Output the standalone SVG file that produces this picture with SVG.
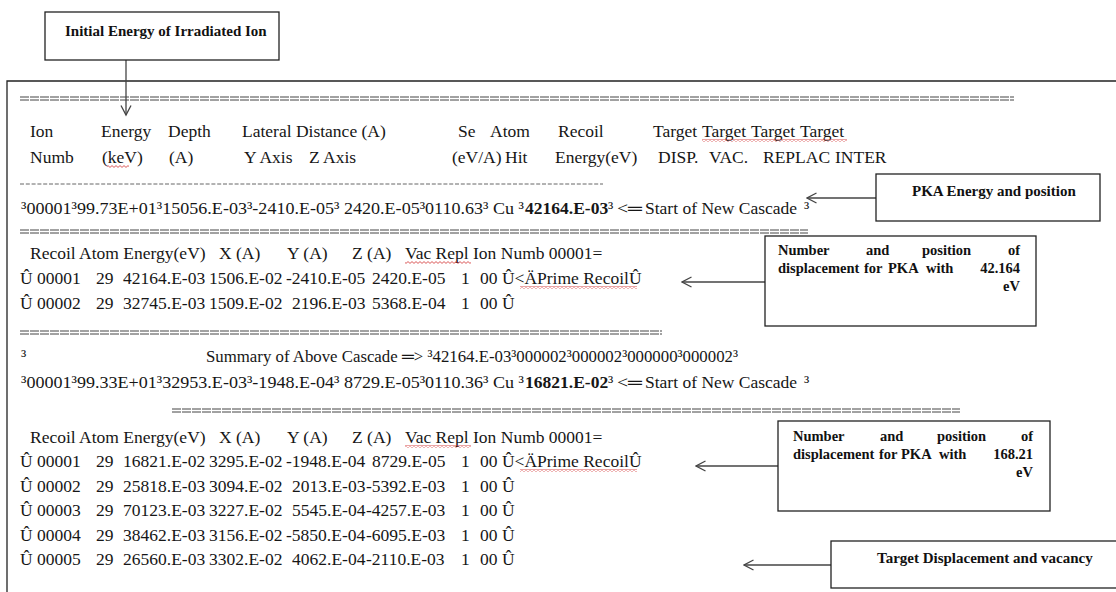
<svg xmlns="http://www.w3.org/2000/svg" width="1116" height="592" viewBox="0 0 1116 592">
<style>
.t{font-family:"Liberation Serif","Times New Roman",serif;font-size:17.5px;fill:#161616}
.tb{font-family:"Liberation Serif","Times New Roman",serif;font-size:17.5px;font-weight:bold;fill:#161616}
.b{font-family:"Liberation Serif","Times New Roman",serif;font-size:15px;font-weight:bold;fill:#111}
.bs{font-family:"Liberation Serif","Times New Roman",serif;font-size:14.5px;font-weight:bold;fill:#111}
.box{fill:#fff;stroke:#222;stroke-width:1.3}
.frame{fill:none;stroke:#222;stroke-width:1.3}
.conn{fill:none;stroke:#444;stroke-width:1.3;marker-end:url(#ah)}
.dbl{stroke:#444;stroke-width:1;stroke-dasharray:9 1}
.dash{stroke:#666;stroke-width:1;stroke-dasharray:4 1.8}
.sq{fill:url(#wave)}
</style>
<defs>
<marker id="ah" viewBox="0 0 12 12" refX="10.5" refY="6" markerWidth="12" markerHeight="12" markerUnits="userSpaceOnUse" orient="auto">
<path d="M1,1 L10.5,6 L1,11" fill="none" stroke="#444" stroke-width="1.3"/>
</marker>
<pattern id="wave" width="4" height="3" patternUnits="userSpaceOnUse">
<path d="M0,0.6 L2,2.4 L4,0.6" fill="none" stroke="#d23030" stroke-width="0.8"/>
</pattern>
</defs>
<rect width="1116" height="592" fill="#fff"/>

<g id="listing">
<path class="frame" d="M1116,81 H7 V592"/>
<line class="dbl" x1="20" y1="97" x2="1014" y2="97"/><line class="dbl" x1="20" y1="100" x2="1014" y2="100"/>
<text class="t" y="137"><tspan x="30">Ion</tspan><tspan x="101">Energy</tspan><tspan x="168">Depth</tspan><tspan x="242">Lateral Distance (A)</tspan><tspan x="458">Se</tspan><tspan x="490">Atom</tspan><tspan x="558">Recoil</tspan><tspan x="653">Target</tspan><tspan x="702">Target</tspan><tspan x="751">Target</tspan><tspan x="800">Target</tspan></text>
<text class="t" y="163"><tspan x="30">Numb</tspan><tspan x="102">(keV)</tspan><tspan x="169">(A)</tspan><tspan x="244">Y Axis</tspan><tspan x="309">Z Axis</tspan><tspan x="452">(eV/A)</tspan><tspan x="505">Hit</tspan><tspan x="555">Energy(eV)</tspan><tspan x="658">DISP.</tspan><tspan x="709">VAC.</tspan><tspan x="763">REPLAC</tspan><tspan x="835">INTER</tspan></text>
<rect class="sq" x="702" y="139" width="145" height="3"/>
<rect class="sq" x="107" y="165" width="22" height="3"/>
<line class="dash" x1="20" y1="184" x2="603" y2="184"/>
<text class="t" y="214"><tspan x="21" textLength="503" lengthAdjust="spacingAndGlyphs">³00001³99.73E+01³15056.E-03³-2410.E-05³ 2420.E-05³0110.63³ Cu ³</tspan></text>
<text class="tb" x="525" y="214">42164.E-03</text>
<text class="t" y="214"><tspan x="608">³</tspan><tspan x="617" textLength="25" lengthAdjust="spacingAndGlyphs">&lt;═</tspan><tspan x="645">Start of New Cascade</tspan><tspan x="804">³</tspan></text>
<line class="dbl" x1="20" y1="230" x2="808" y2="230"/><line class="dbl" x1="20" y1="233" x2="808" y2="233"/>

<text class="t" y="259"><tspan x="30">Recoil Atom Energy(eV)</tspan><tspan x="219">X (A)</tspan><tspan x="287">Y (A)</tspan><tspan x="352">Z (A)</tspan><tspan x="405">Vac Repl Ion Numb 00001=</tspan></text>
<rect class="sq" x="405" y="261" width="66" height="3"/>
<text class="t" y="284"><tspan x="20">Û</tspan><tspan x="37">00001</tspan><tspan x="96">29</tspan><tspan x="123">42164.E-03</tspan><tspan x="209">1506.E-02</tspan><tspan x="286">-2410.E-05</tspan><tspan x="372">2420.E-05</tspan><tspan x="461">1</tspan><tspan x="480">00 Û&lt;ÄPrime RecoilÛ</tspan></text>
<rect class="sq" x="520" y="286" width="117" height="3"/>
<text class="t" y="309"><tspan x="20">Û</tspan><tspan x="37">00002</tspan><tspan x="96">29</tspan><tspan x="123">32745.E-03</tspan><tspan x="209">1509.E-02</tspan><tspan x="292">2196.E-03</tspan><tspan x="372">5368.E-04</tspan><tspan x="461">1</tspan><tspan x="480">00 Û</tspan></text>
<line class="dbl" x1="20" y1="331" x2="662" y2="331"/><line class="dbl" x1="20" y1="334" x2="662" y2="334"/>

<text class="t" x="21" y="362">³</text>
<text class="t" x="206" y="362" textLength="532" lengthAdjust="spacingAndGlyphs">Summary of Above Cascade ═&gt; ³42164.E-03³000002³000002³000000³000002³</text>
<text class="t" y="388"><tspan x="21" textLength="503" lengthAdjust="spacingAndGlyphs">³00001³99.33E+01³32953.E-03³-1948.E-04³ 8729.E-05³0110.36³ Cu ³</tspan></text>
<text class="tb" x="525" y="388">16821.E-02</text>
<text class="t" y="388"><tspan x="608">³</tspan><tspan x="617" textLength="25" lengthAdjust="spacingAndGlyphs">&lt;═</tspan><tspan x="645">Start of New Cascade</tspan><tspan x="804">³</tspan></text>
<line class="dbl" x1="172" y1="409" x2="960" y2="409"/><line class="dbl" x1="172" y1="412" x2="960" y2="412"/>

<text class="t" y="443"><tspan x="30">Recoil Atom Energy(eV)</tspan><tspan x="219">X (A)</tspan><tspan x="287">Y (A)</tspan><tspan x="352">Z (A)</tspan><tspan x="405">Vac Repl Ion Numb 00001=</tspan></text>
<rect class="sq" x="405" y="445" width="66" height="3"/>
<text class="t" y="467"><tspan x="20">Û</tspan><tspan x="37">00001</tspan><tspan x="96">29</tspan><tspan x="123">16821.E-02</tspan><tspan x="209">3295.E-02</tspan><tspan x="286">-1948.E-04</tspan><tspan x="372">8729.E-05</tspan><tspan x="461">1</tspan><tspan x="480">00 Û&lt;ÄPrime RecoilÛ</tspan></text>
<rect class="sq" x="520" y="469" width="117" height="3"/>
<text class="t" y="492"><tspan x="20">Û</tspan><tspan x="37">00002</tspan><tspan x="96">29</tspan><tspan x="123">25818.E-03</tspan><tspan x="209">3094.E-02</tspan><tspan x="292">2013.E-03</tspan><tspan x="366">-5392.E-03</tspan><tspan x="461">1</tspan><tspan x="480">00 Û</tspan></text>
<text class="t" y="516"><tspan x="20">Û</tspan><tspan x="37">00003</tspan><tspan x="96">29</tspan><tspan x="123">70123.E-03</tspan><tspan x="209">3227.E-02</tspan><tspan x="292">5545.E-04</tspan><tspan x="366">-4257.E-03</tspan><tspan x="461">1</tspan><tspan x="480">00 Û</tspan></text>
<text class="t" y="541"><tspan x="20">Û</tspan><tspan x="37">00004</tspan><tspan x="96">29</tspan><tspan x="123">38462.E-03</tspan><tspan x="209">3156.E-02</tspan><tspan x="286">-5850.E-04</tspan><tspan x="366">-6095.E-03</tspan><tspan x="461">1</tspan><tspan x="480">00 Û</tspan></text>
<text class="t" y="565"><tspan x="20">Û</tspan><tspan x="37">00005</tspan><tspan x="96">29</tspan><tspan x="123">26560.E-03</tspan><tspan x="209">3302.E-02</tspan><tspan x="292">4062.E-04</tspan><tspan x="366">-2110.E-03</tspan><tspan x="461">1</tspan><tspan x="480">00 Û</tspan></text>
</g>

<g id="connectors">
<line class="conn" x1="126" y1="60" x2="126" y2="115"/>
<line class="conn" x1="876" y1="198" x2="807" y2="198"/>
<line class="conn" x1="765" y1="282" x2="682" y2="282"/>
<line class="conn" x1="778" y1="466" x2="696" y2="466"/>
<line class="conn" x1="831" y1="565" x2="744" y2="565"/>
</g>

<g id="box-initial">
<rect class="box" x="45" y="12" width="234" height="48"/>
<text class="b" x="65" y="36">Initial Energy of Irradiated Ion</text>
</g>
<g id="box-pka">
<rect class="box" x="876" y="174" width="224" height="47"/>
<text class="b" x="912" y="196">PKA Energy and position</text>
</g>
<g id="box-num1">
<rect class="box" x="765" y="236" width="271" height="90"/>
<text class="bs" y="255"><tspan x="778">Number</tspan><tspan x="866">and</tspan><tspan x="922">position</tspan></text>
<text class="bs" x="1020" y="255" text-anchor="end">of</text>
<text class="bs" y="273"><tspan x="778">displacement</tspan><tspan x="864">for</tspan><tspan x="888">PKA</tspan><tspan x="926">with</tspan></text>
<text class="bs" x="1020" y="273" text-anchor="end">42.164</text>
<text class="bs" x="1020" y="291" text-anchor="end">eV</text>
</g>
<g id="box-num2">
<rect class="box" x="778" y="421" width="272" height="90"/>
<text class="bs" y="441"><tspan x="793">Number</tspan><tspan x="880">and</tspan><tspan x="937">position</tspan></text>
<text class="bs" x="1033" y="441" text-anchor="end">of</text>
<text class="bs" y="459"><tspan x="793">displacement</tspan><tspan x="879">for</tspan><tspan x="901">PKA</tspan><tspan x="939">with</tspan></text>
<text class="bs" x="1033" y="459" text-anchor="end">168.21</text>
<text class="bs" x="1033" y="477" text-anchor="end">eV</text>
</g>
<g id="box-target">
<rect class="box" x="831" y="541" width="290" height="47"/>
<text class="b" x="877" y="563">Target Displacement and vacancy</text>
</g>
</svg>
